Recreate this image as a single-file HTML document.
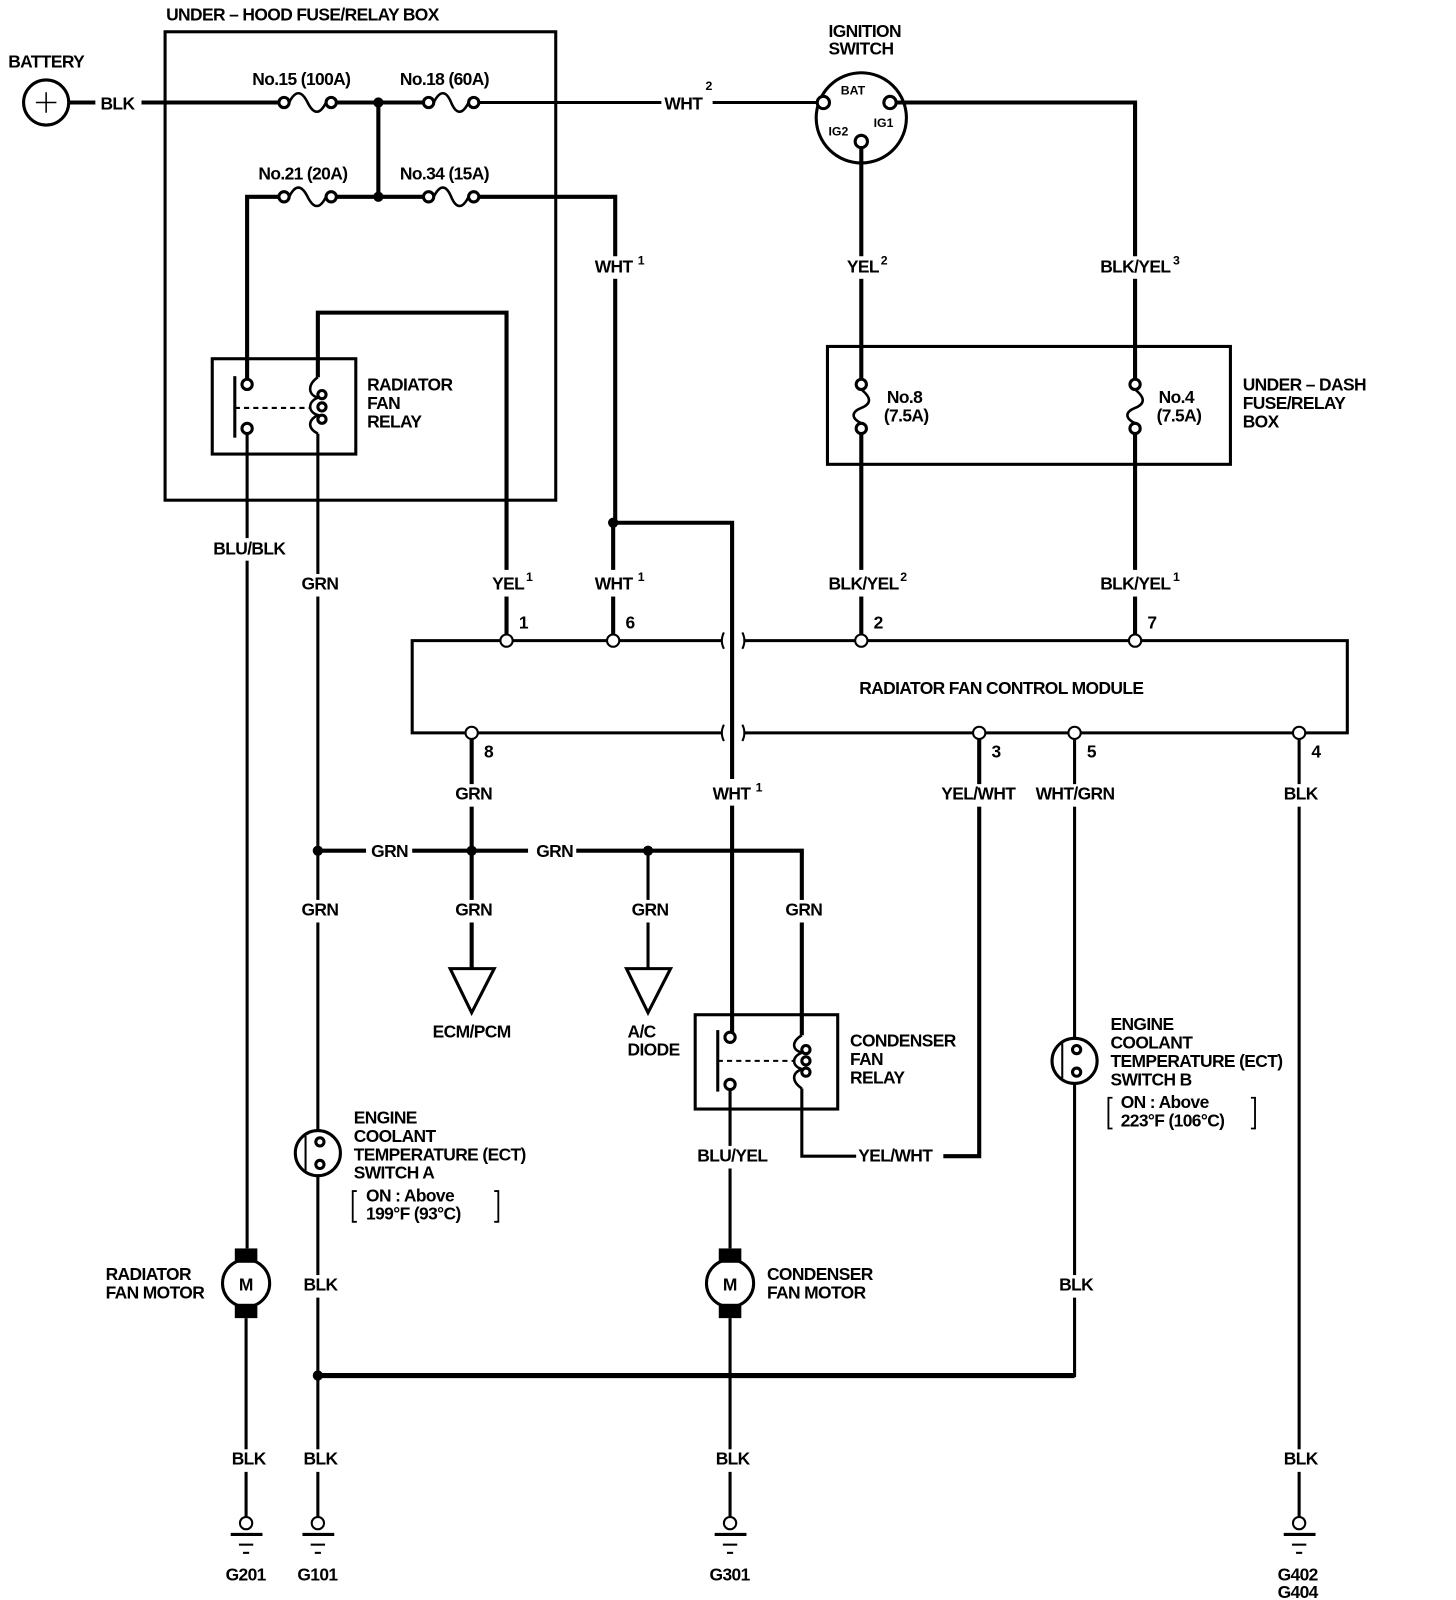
<!DOCTYPE html>
<html><head><meta charset="utf-8"><style>
html,body{margin:0;padding:0;background:#fff}
svg{display:block}
text{font-family:"Liberation Sans Narrow","Liberation Sans",sans-serif;font-weight:bold;font-size:17px;fill:#000;letter-spacing:-0.6px}
.s{font-size:12px;letter-spacing:0}
</style></head><body>
<svg width="1456" height="1600" viewBox="0 0 1420 1561" preserveAspectRatio="none" xmlns="http://www.w3.org/2000/svg">
<g fill="none" stroke="#000" stroke-width="3">
<rect x="161" y="31" width="381" height="457"/>
<circle cx="45" cy="100" r="22"/>
<line x1="35" y1="100" x2="55" y2="100" stroke-width="1.5"/>
<line x1="45" y1="90" x2="45" y2="110" stroke-width="1.5"/>
<line x1="67" y1="100" x2="93" y2="100" stroke-width="4"/>
<line x1="138" y1="100" x2="272" y2="100" stroke-width="4"/>
<line x1="327" y1="100" x2="414" y2="100" stroke-width="4"/>
<line x1="466" y1="100" x2="645" y2="100" stroke-width="3"/>
<line x1="695" y1="100" x2="799" y2="100" stroke-width="3"/>
<circle cx="277" cy="100" r="5" fill="#fff"/><circle cx="323" cy="100" r="5" fill="#fff"/>
<path d="M282 100 C288 88 294 88 300 100 S312 112 318 100" stroke-width="2.5"/>
<circle cx="418" cy="100" r="5" fill="#fff"/><circle cx="462" cy="100" r="5" fill="#fff"/>
<path d="M423 100 C429 88 435 88 440 100 S451 112 457 100" stroke-width="2.5"/>
<line x1="369" y1="100" x2="369" y2="192" stroke-width="4"/>
<polyline points="241,372 241,192 272,192" stroke-width="4"/>
<line x1="327" y1="192" x2="414" y2="192" stroke-width="4"/>
<polyline points="466,192 600,192 600,510 714,510 714,1010" stroke-width="4"/>
<circle cx="277" cy="192" r="5" fill="#fff"/><circle cx="323" cy="192" r="5" fill="#fff"/>
<path d="M282 192 C288 180 294 180 300 192 S312 204 318 192" stroke-width="2.5"/>
<circle cx="418" cy="192" r="5" fill="#fff"/><circle cx="462" cy="192" r="5" fill="#fff"/>
<path d="M423 192 C429 180 435 180 440 192 S451 204 457 192" stroke-width="2.5"/>
<rect x="207" y="350" width="140" height="93"/>
<line x1="229" y1="367" x2="229" y2="427" stroke-width="3"/>
<line x1="229" y1="398" x2="302" y2="398" stroke-width="2" stroke-dasharray="5,4"/>
<circle cx="241" cy="375" r="5" fill="#fff"/><circle cx="241" cy="418" r="5" fill="#fff"/>
<path d="M310 368 C300 375 300 385 310 388 C300 392 300 402 310 405 C300 410 300 418 310 423" stroke-width="2.5"/>
<circle cx="314" cy="385" r="4"/><circle cx="314" cy="397" r="4"/><circle cx="314" cy="409" r="4"/>
<polyline points="310,368 310,305 494,305 494,622" stroke-width="4"/>
<line x1="310" y1="423" x2="310" y2="1103" stroke-width="3"/>
<line x1="241" y1="423" x2="241" y2="1218" stroke-width="3"/>
<circle cx="840" cy="115" r="44" stroke-width="3"/>
<circle cx="803" cy="100" r="6" fill="#fff"/>
<circle cx="868" cy="100" r="6" fill="#fff"/>
<circle cx="840" cy="138" r="6" fill="#fff"/>
<polyline points="874,100 1107,100 1107,372" stroke-width="4"/>
<line x1="840" y1="144" x2="840" y2="372" stroke-width="4"/>
<rect x="807" y="338" width="393" height="115"/>
<circle cx="840" cy="375" r="5" fill="#fff"/><circle cx="840" cy="418" r="5" fill="#fff"/>
<path d="M840 380 C850 388 850 394 840 398 S830 408 840 413" stroke-width="2.5"/>
<circle cx="1107" cy="375" r="5" fill="#fff"/><circle cx="1107" cy="418" r="5" fill="#fff"/>
<path d="M1107 380 C1117 388 1117 394 1107 398 S1097 408 1107 413" stroke-width="2.5"/>
<line x1="840" y1="423" x2="840" y2="620" stroke-width="4"/>
<line x1="1107" y1="423" x2="1107" y2="620" stroke-width="4"/>
<polyline points="704,625 402,625 402,715 704,715"/>
<polyline points="725,625 1314,625 1314,715 725,715"/>
<path d="M706 617 Q702 625 706 633 M724 617 Q728 625 724 633 M706 707 Q702 715 706 723 M724 707 Q728 715 724 723" stroke-width="2"/>
<line x1="598" y1="510" x2="598" y2="620" stroke-width="4"/>
<line x1="460" y1="720" x2="460" y2="945" stroke-width="4"/>
<polyline points="955,720 955,1128 920,1128" stroke-width="4"/>
<line x1="1048" y1="720" x2="1048" y2="1013" stroke-width="3"/>
<line x1="1267" y1="720" x2="1267" y2="1480" stroke-width="3"/>
<line x1="310" y1="830" x2="357" y2="830" stroke-width="4"/>
<line x1="402" y1="830" x2="515" y2="830" stroke-width="4"/>
<polyline points="562,830 782,830 782,1010" stroke-width="4"/>
<line x1="632" y1="830" x2="632" y2="945" stroke-width="3"/>
<polygon points="439,945 482,945 460,988"/>
<polygon points="611,945 654,945 632,988"/>
<rect x="678" y="990" width="139" height="92"/>
<line x1="700" y1="1005" x2="700" y2="1065"/>
<line x1="700" y1="1035" x2="774" y2="1035" stroke-width="2" stroke-dasharray="5,4"/>
<circle cx="712" cy="1012" r="5" fill="#fff"/><circle cx="712" cy="1058" r="5" fill="#fff"/>
<path d="M782 1010 C772 1016 772 1024 782 1027 C772 1031 772 1040 782 1043 C772 1047 772 1055 782 1062" stroke-width="2.5"/>
<circle cx="786" cy="1024" r="4"/><circle cx="786" cy="1035" r="4"/><circle cx="786" cy="1046" r="4"/>
<polyline points="782,1062 782,1128 835,1128" stroke-width="3"/>
<line x1="712" y1="1063" x2="712" y2="1120" stroke-width="3"/>
<line x1="712" y1="1140" x2="712" y2="1218" stroke-width="3"/>
<circle cx="240" cy="1252" r="23" fill="#fff"/>
<circle cx="712" cy="1252" r="23" fill="#fff"/>
<line x1="240" y1="1286" x2="240" y2="1480" stroke-width="3"/>
<line x1="712" y1="1286" x2="712" y2="1480" stroke-width="3"/>
<circle cx="310" cy="1125" r="22" fill="#fff"/>
<line x1="298" y1="1108" x2="298" y2="1142" stroke-width="2"/>
<circle cx="312" cy="1114" r="4"/><circle cx="312" cy="1136" r="4"/>
<line x1="310" y1="1147" x2="310" y2="1480" stroke-width="3"/>
<circle cx="1048" cy="1035" r="22" fill="#fff"/>
<line x1="1036" y1="1018" x2="1036" y2="1052" stroke-width="2"/>
<circle cx="1050" cy="1024" r="4"/><circle cx="1050" cy="1046" r="4"/>
<polyline points="1048,1057 1048,1342 310,1342" stroke-width="3"/>
<line x1="310" y1="1342" x2="1048" y2="1342" stroke-width="5"/>
<path d="M348 1162 h-4 v30 h4 M482 1162 h4 v30 h-4 M1085 1071 h-4 v30 h4 M1220 1071 h4 v30 h-4" stroke-width="1.8"/>
<g stroke-width="2">
<circle cx="240" cy="1486" r="6" fill="#fff"/><line x1="225" y1="1497" x2="256" y2="1497" stroke-width="3"/><line x1="233" y1="1507" x2="247" y2="1507"/>
<circle cx="310" cy="1486" r="6" fill="#fff"/><line x1="295" y1="1497" x2="326" y2="1497" stroke-width="3"/><line x1="303" y1="1507" x2="317" y2="1507"/>
<circle cx="712" cy="1486" r="6" fill="#fff"/><line x1="697" y1="1497" x2="728" y2="1497" stroke-width="3"/><line x1="705" y1="1507" x2="719" y2="1507"/>
<circle cx="1267" cy="1486" r="6" fill="#fff"/><line x1="1252" y1="1497" x2="1283" y2="1497" stroke-width="3"/><line x1="1260" y1="1507" x2="1274" y2="1507"/>
</g>
</g>
<g fill="#fff">
<rect x="570" y="250" width="60" height="22"/><rect x="816" y="250" width="55" height="22"/><rect x="1068" y="250" width="88" height="22"/>
<rect x="203" y="525" width="75" height="22"/><rect x="288" y="560" width="45" height="22"/><rect x="476" y="556" width="50" height="26"/>
<rect x="574" y="556" width="60" height="26"/><rect x="802" y="556" width="90" height="26"/><rect x="1068" y="556" width="90" height="26"/>
<rect x="440" y="765" width="42" height="22"/><rect x="690" y="760" width="55" height="26"/><rect x="915" y="765" width="80" height="22"/>
<rect x="1008" y="765" width="84" height="22"/><rect x="1248" y="765" width="40" height="22"/>
<rect x="290" y="878" width="42" height="22"/><rect x="440" y="878" width="42" height="22"/><rect x="612" y="878" width="42" height="22"/><rect x="762" y="878" width="42" height="22"/>
<rect x="676" y="1118" width="72" height="22"/><rect x="292" y="1244" width="36" height="22"/><rect x="1030" y="1244" width="36" height="22"/>
<rect x="222" y="1414" width="36" height="22"/><rect x="292" y="1414" width="36" height="22"/><rect x="694" y="1414" width="36" height="22"/><rect x="1249" y="1414" width="36" height="22"/>
</g>
<g fill="#fff" stroke="#000" stroke-width="2">
<circle cx="494" cy="625" r="6"/><circle cx="598" cy="625" r="6"/><circle cx="840" cy="625" r="6"/><circle cx="1107" cy="625" r="6"/>
<circle cx="460" cy="715" r="6"/><circle cx="955" cy="715" r="6"/><circle cx="1048" cy="715" r="6"/><circle cx="1267" cy="715" r="6"/>
</g>
<g fill="#000">
<circle cx="369" cy="100" r="5"/><circle cx="369" cy="192" r="5"/><circle cx="598" cy="510" r="5"/>
<circle cx="310" cy="830" r="5"/><circle cx="460" cy="830" r="5"/><circle cx="632" cy="830" r="5"/><circle cx="310" cy="1342" r="5"/>
<rect x="229" y="1218" width="22" height="14"/><rect x="229" y="1272" width="22" height="14"/>
<rect x="701" y="1218" width="22" height="14"/><rect x="701" y="1272" width="22" height="14"/>
<rect x="237" y="1514" width="6" height="2"/><rect x="307" y="1514" width="6" height="2"/><rect x="709" y="1514" width="6" height="2"/><rect x="1264" y="1514" width="6" height="2"/>
</g>
<text x="233" y="1259">M</text><text x="705" y="1259">M</text>
<text x="162" y="20">UNDER – HOOD FUSE/RELAY BOX</text>
<text x="8" y="66">BATTERY</text>
<text x="98" y="107">BLK</text>
<text x="246" y="83">No.15 (100A)</text><text x="390" y="83">No.18 (60A)</text>
<text x="252" y="175">No.21 (20A)</text><text x="390" y="175">No.34 (15A)</text>
<text x="648" y="107">WHT</text><text class="s" x="688" y="88">2</text>
<text x="808" y="36">IGNITION</text><text x="808" y="53">SWITCH</text>
<text class="s" x="820" y="92">BAT</text><text class="s" x="852" y="124">IG1</text><text class="s" x="808" y="132">IG2</text>
<text x="580" y="266">WHT</text><text class="s" x="622" y="258">1</text>
<text x="826" y="266">YEL</text><text class="s" x="859" y="258">2</text>
<text x="1073" y="266">BLK/YEL</text><text class="s" x="1144" y="258">3</text>
<text x="358" y="381">RADIATOR</text><text x="358" y="399">FAN</text><text x="358" y="417">RELAY</text>
<text x="865" y="393">No.8</text><text x="862" y="411">(7.5A)</text>
<text x="1130" y="393">No.4</text><text x="1128" y="411">(7.5A)</text>
<text x="1212" y="381">UNDER – DASH</text><text x="1212" y="399">FUSE/RELAY</text><text x="1212" y="417">BOX</text>
<text x="208" y="541">BLU/BLK</text>
<text x="294" y="575">GRN</text>
<text x="480" y="575">YEL</text><text class="s" x="513" y="567">1</text>
<text x="580" y="575">WHT</text><text class="s" x="622" y="567">1</text>
<text x="808" y="575">BLK/YEL</text><text class="s" x="878" y="567">2</text>
<text x="1073" y="575">BLK/YEL</text><text class="s" x="1144" y="567">1</text>
<text x="506" y="613">1</text><text x="610" y="613">6</text><text x="852" y="613">2</text><text x="1119" y="613">7</text>
<text x="838" y="677">RADIATOR FAN CONTROL MODULE</text>
<text x="472" y="739">8</text><text x="967" y="739">3</text><text x="1060" y="739">5</text><text x="1279" y="739">4</text>
<text x="444" y="780">GRN</text>
<text x="695" y="780">WHT</text><text class="s" x="737" y="772">1</text>
<text x="918" y="780">YEL/WHT</text><text x="1010" y="780">WHT/GRN</text><text x="1252" y="780">BLK</text>
<text x="362" y="836">GRN</text><text x="523" y="836">GRN</text>
<text x="294" y="893">GRN</text><text x="444" y="893">GRN</text><text x="616" y="893">GRN</text><text x="766" y="893">GRN</text>
<text x="422" y="1012">ECM/PCM</text>
<text x="612" y="1012">A/C</text><text x="612" y="1030">DIODE</text>
<text x="829" y="1021">CONDENSER</text><text x="829" y="1039">FAN</text><text x="829" y="1057">RELAY</text>
<text x="1083" y="1005">ENGINE</text><text x="1083" y="1023">COOLANT</text><text x="1083" y="1041">TEMPERATURE (ECT)</text><text x="1083" y="1059">SWITCH B</text>
<text x="1093" y="1081">ON : Above</text><text x="1093" y="1099">223°F (106°C)</text>
<text x="345" y="1096">ENGINE</text><text x="345" y="1114">COOLANT</text><text x="345" y="1132">TEMPERATURE (ECT)</text><text x="345" y="1150">SWITCH A</text>
<text x="357" y="1172">ON : Above</text><text x="357" y="1190">199°F (93°C)</text>
<text x="680" y="1133">BLU/YEL</text><text x="837" y="1133">YEL/WHT</text>
<text x="103" y="1249">RADIATOR</text><text x="103" y="1267">FAN MOTOR</text>
<text x="748" y="1249">CONDENSER</text><text x="748" y="1267">FAN MOTOR</text>
<text x="296" y="1259">BLK</text><text x="1033" y="1259">BLK</text>
<text x="226" y="1429">BLK</text><text x="296" y="1429">BLK</text><text x="698" y="1429">BLK</text><text x="1252" y="1429">BLK</text>
<text x="220" y="1542">G201</text><text x="290" y="1542">G101</text><text x="692" y="1542">G301</text>
<text x="1246" y="1542">G402</text><text x="1246" y="1559">G404</text>
</svg>
</body></html>
